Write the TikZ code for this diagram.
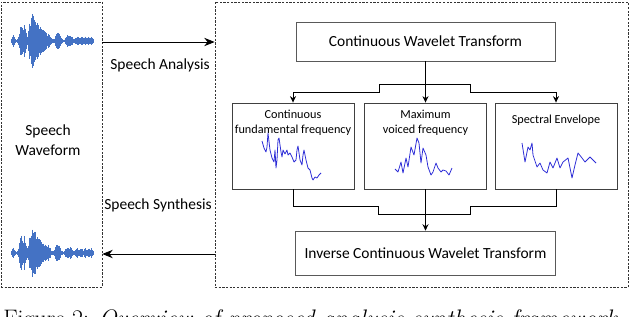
\documentclass[tikz,border=0pt]{standalone}
\usepackage{fontspec}
\newfontfamily\carlito{Carlito}
\usetikzlibrary{arrows.meta,positioning,calc}
\definecolor{waveblue}{HTML}{4472C4}
\definecolor{plotblue}{HTML}{2B2BD6}
\definecolor{boxgray}{HTML}{595959}
% speech waveform: #1 = centre line, #2 = seed
\newcommand\speechwave[2]{%
  \pgfmathsetseed{#2}%
  \foreach \x/\a in {11/2,12/5,13/6,14/4,15/2,16/1,17/2,18/5,19/10,20/16,21/19,22/14,23/12,24/17,25/15,26/8,27/5,28/10,29/18,30/20,31/24,32/27,33/28,34/26,35/22,36/20,37/18,38/16,39/15,40/14,41/13,42/12,43/11,44/10,45/9,46/8,47/7,48/8,49/6,50/5,51/3,52/2,53/2,54/3,55/6,56/8,57/9,58/9,59/8,60/6,61/3,62/2,63/1,64/2,65/4,66/5,67/6,68/6,69/5,70/6,71/5,72/4,73/2,74/2,75/3,76/4,77/5,78/4,79/3,80/4,81/5,82/4,83/3,84/4,85/5,86/4,87/3,88/4,89/5,90/4,91/5,92/3,93/2}{
    \foreach \k in {0,0.5}{
      \pgfmathsetmacro\h{\a*(0.65+0.35*rnd)}
      \draw[waveblue,line width=0.6pt] (\x+\k,#1-\h) -- (\x+\k,#1+\h);
    }
  }%
}

\begin{document}
\begin{tikzpicture}[x=0.025cm,y=-0.025cm,
  dashbox/.style={draw=black!80,dash pattern=on 1.6pt off 1pt,line width=0.5pt,inner sep=0},
  procbox/.style={draw=boxgray,line width=0.5pt,inner sep=0,font=\carlito\fontsize{11}{13}\selectfont},
  featbox/.style={draw=black!75,line width=0.6pt,minimum width=3.05cm,minimum height=2.15cm,inner sep=0},
  featlbl/.style={align=center,inner sep=1pt,font=\carlito\fontsize{8.7}{10.7}\selectfont},
  steplbl/.style={inner sep=1pt,font=\carlito\fontsize{11}{14}\selectfont},
  arr/.style={-{Stealth[length=2.6mm,width=2.1mm]},line width=0.6pt},
  branch/.style={-{Stealth[length=1.6mm,width=1.5mm]},line width=0.6pt},
  wire/.style={line width=0.6pt},
  curve/.style={plotblue,line width=0.55pt,line join=round}]
  \useasboundingbox (0,0) rectangle (630,316);
  \clip (0,0) rectangle (630,316);

  % Dashed frames
  \node[dashbox,minimum width=2.525cm,minimum height=7.125cm] (wavebox) at (51.5,144.5) {};
  \node[dashbox,minimum width=10.325cm,minimum height=7.125cm] (procframe) at (421.5,144.5) {};

  % Waveforms
  \speechwave{41}{7}
  \speechwave{253}{11}
  \coordinate (wavein) at (52,42);
  \coordinate (waveout) at (52,254);
  \node[steplbl,align=center] (wavelbl) at (48,140) {Speech\\Waveform};

  % Analysis and synthesis
  \draw[arr] (wavein -| wavebox.east) -- (wavein -| procframe.west);
  \node[steplbl] (analbl) at (160,65) {Speech Analysis};
  \draw[arr] (waveout -| procframe.west) -- (waveout -| wavebox.east);
  \node[steplbl] (synlbl) at (158,205) {Speech Synthesis};

  % Wavelet transforms
  \node[procbox,minimum width=6.475cm,minimum height=0.975cm] (cwt) at (425.5,41.5) {Continuous Wavelet Transform};
  \node[procbox,minimum width=6.5cm,minimum height=1.1cm] (icwt) at (425.5,253) {Inverse Continuous Wavelet Transform};

  % Parameter boxes
  \node[featbox] (fzero) at (293,146) {};
  \node[featbox] (mvf) at (425.5,146) {};
  \node[featbox] (spenv) at (556,146) {};
  \node[featlbl,below=1.5mm of fzero.north] (fzerolbl) {Continuous\\fundamental frequency};
  \node[featlbl,below=1.5mm of mvf.north] (mvflbl) {Maximum\\voiced frequency};
  \node[featlbl,below=2.8mm of spenv.north] (spenvlbl) {Spectral Envelope};

  % Parameter curves
  \draw[curve] plot coordinates {(262,141) (264,148) (266,152) (267,147) (268,133) (270,150) (272,158) (274,162) (275,150) (276,168) (277,160) (278,140) (279,138) (281,152) (282,157) (283,150) (285,154) (287,150) (288,155) (290,153) (292,157) (294,162) (296,160) (297,150) (298,146) (300,160) (302,165) (303,155) (304,150) (306,160) (308,168) (310,170) (312,178) (313,180) (315,177) (317,178) (319,175) (321,173)};
  \draw[curve] plot coordinates {(395,169) (398,172) (401,162) (403,173) (406,158) (408,167) (411,147) (414,155) (417,138) (419,143) (421,163) (423,148) (426,155) (428,167) (431,175) (433,172) (436,163) (438,168) (441,172) (443,170) (446,171) (449,175) (452,168)};
  \draw[curve] plot coordinates {(522,143) (525,162) (528,147) (530,150) (532,143) (533,155) (537,167) (540,163) (543,170) (547,173) (550,162) (553,168) (557,158) (560,168) (563,162) (568,158) (572,178) (575,165) (578,153) (582,158) (585,162) (590,157) (596,163)};

  % Split after the transform
  \coordinate (split) at (425.5,84);
  \draw[branch] (cwt.south) -- (mvf.north);
  \draw[branch] (split) -- ++(-46,0) -- ++(0,8) -| (fzero.north);
  \draw[branch] (split) -- ++(45,0) -- ++(0,8) -| (spenv.north);

  % Merge before the inverse transform
  \coordinate (merge) at (425.5,214);
  \draw[wire] (fzero.south) -- ++(0,17) -| ($(merge)+(-47,0)$) -- (merge);
  \draw[wire] (spenv.south) -- ++(0,17) -| ($(merge)+(45,0)$) -- (merge);
  \draw[branch] (mvf.south) -- (icwt.north);

  % Caption
  \node[anchor=base west,inner sep=0,font=\fontsize{17}{20}\selectfont] (caption) at (3,326) {Figure 2: \textit{Overview of proposed analysis-synthesis framework}};
\end{tikzpicture}
\end{document}
